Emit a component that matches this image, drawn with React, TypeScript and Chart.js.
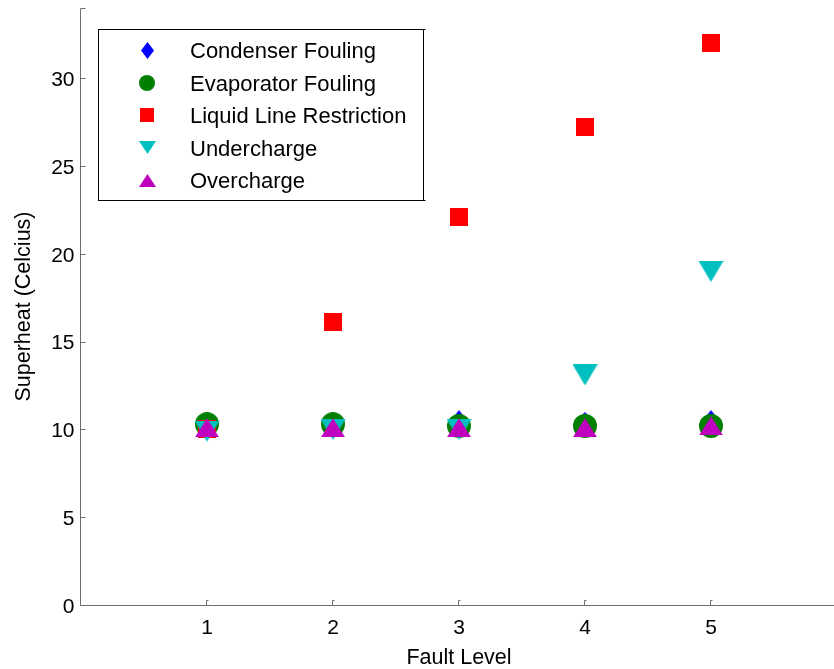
import React, { useEffect, useRef } from 'react';
import { Chart, registerables } from 'chart.js';

Chart.register(...registerables);

// ---- data ----
const faultLevels = [1, 2, 3, 4, 5];
const seriesNames = [
  'Condenser Fouling',
  'Evaporator Fouling',
  'Liquid Line Restriction',
  'Undercharge',
  'Overcharge',
];
const condenserFouling = [10.3, 10.3, 10.4, 10.3, 10.4];
const evaporatorFouling = [10.3, 10.3, 10.2, 10.2, 10.2];
const liquidLineRestriction = [10.0, 16.1, 22.1, 27.2, 32.0];
const undercharge = [9.9, 10.0, 10.0, 13.1, 19.0];
const overcharge = [10.1, 10.1, 10.1, 10.1, 10.2];
const xTicks = [1, 2, 3, 4, 5];
const yTicks = [0, 5, 10, 15, 20, 25, 30];
const xTitle = 'Fault Level';
const yTitle = 'Superheat (Celcius)';

// ---- styles ----
const FONT = '"Liberation Sans", Arial, Helvetica, sans-serif';
const AXIS_COLOR = '#6e6e6e';
type Shape = 'diamond' | 'circle' | 'square' | 'triUp' | 'triDown';
const markerStyles: { shape: Shape; color: string; plot: [number, number]; legend: [number, number] }[] = [
  { shape: 'diamond', color: '#0000ff', plot: [19, 25], legend: [13, 17] },
  { shape: 'circle', color: '#008000', plot: [24, 24], legend: [16, 16] },
  { shape: 'square', color: '#ff0000', plot: [18, 18], legend: [14, 14] },
  { shape: 'triDown', color: '#00bfbf', plot: [25, 21], legend: [17, 13] },
  { shape: 'triUp', color: '#bf00bf', plot: [24, 19], legend: [17, 13] },
];

function makeMarker(shape: Shape, color: string, w: number, h: number) {
  const c = document.createElement('canvas');
  c.width = w;
  c.height = h;
  const ctx = c.getContext('2d')!;
  ctx.fillStyle = color;
  ctx.beginPath();
  switch (shape) {
    case 'diamond':
      ctx.moveTo(w / 2, 0);
      ctx.lineTo(w, h / 2);
      ctx.lineTo(w / 2, h);
      ctx.lineTo(0, h / 2);
      break;
    case 'circle':
      ctx.ellipse(w / 2, h / 2, w / 2, h / 2, 0, 0, Math.PI * 2);
      break;
    case 'square':
      ctx.rect(0, 0, w, h);
      break;
    case 'triUp':
      ctx.moveTo(w / 2, 0);
      ctx.lineTo(w, h);
      ctx.lineTo(0, h);
      break;
    case 'triDown':
      ctx.moveTo(0, 0);
      ctx.lineTo(w, 0);
      ctx.lineTo(w / 2, h);
      break;
  }
  ctx.closePath();
  ctx.fill();
  return c;
}

export default function App() {
  const ref = useRef<HTMLCanvasElement | null>(null);

  useEffect(() => {
    if (!ref.current) return;
    const seriesValues = [condenserFouling, evaporatorFouling, liquidLineRestriction, undercharge, overcharge];
    const plotMarkers = markerStyles.map((m) => makeMarker(m.shape, m.color, m.plot[0], m.plot[1]));
    const legendMarkers = markerStyles.map((m) => makeMarker(m.shape, m.color, m.legend[0], m.legend[1]));

    const matlabPlugin = {
      id: 'matlabAxes',
      beforeDatasetsDraw(chart: any) {
        const { ctx, chartArea } = chart;
        const xs = chart.scales.x;
        const ys = chart.scales.y;
        ctx.save();
        ctx.strokeStyle = AXIS_COLOR;
        ctx.lineWidth = 1;
        const L = Math.round(chartArea.left) - 0.5;
        const B = Math.round(chartArea.bottom) + 0.5;
        const T = Math.round(chartArea.top) + 0.5;
        ctx.beginPath();
        ctx.moveTo(L, T);
        ctx.lineTo(L, B);
        ctx.lineTo(chart.width, B);
        // y ticks (inward)
        [...yTicks, ys.max].forEach((v) => {
          const y = Math.round(ys.getPixelForValue(v)) + 0.5;
          ctx.moveTo(L, y);
          ctx.lineTo(L + 5, y);
        });
        // x ticks (inward)
        xTicks.forEach((v) => {
          const x = Math.round(xs.getPixelForValue(v)) - 0.5;
          ctx.moveTo(x, B);
          ctx.lineTo(x, B - 5);
          ctx.lineTo(x + 2, B - 5);
        });
        ctx.stroke();
        ctx.restore();
      },
      afterDraw(chart: any) {
        const { ctx } = chart;
        ctx.save();
        // legend box
        const bx = 98.5, by = 29.5, bw = 325, bh = 171;
        ctx.fillStyle = '#ffffff';
        ctx.fillRect(bx, by, bw, bh);
        ctx.strokeStyle = '#000000';
        ctx.lineWidth = 1;
        ctx.strokeRect(bx, by, bw, bh);
        ctx.beginPath();
        ctx.moveTo(bx + bw, by);
        ctx.lineTo(bx + bw + 2, by);
        ctx.moveTo(bx + bw, by + bh);
        ctx.lineTo(bx + bw + 2, by + bh);
        ctx.stroke();
        ctx.font = `22px ${FONT}`;
        ctx.fillStyle = '#000000';
        ctx.textBaseline = 'middle';
        ctx.textAlign = 'left';
        seriesNames.forEach((name, i) => {
          const rowY = 52 + i * 32.5;
          const img = legendMarkers[i];
          ctx.drawImage(img, Math.round(147 - img.width / 2), Math.round(rowY - 2 - img.height / 2));
          ctx.fillText(name, 190, rowY);
        });
        ctx.restore();
      },
    };

    const chart = new Chart(ref.current, {
      type: 'scatter',
      data: {
        datasets: seriesNames.map((name, i) => ({
          label: name,
          data: faultLevels.map((x, j) => ({ x, y: seriesValues[i][j] })),
          pointStyle: plotMarkers[i] as any,
          pointRadius: 12,
          pointHoverRadius: 12,
          order: seriesNames.length - i,
          showLine: false,
        })),
      },
      options: {
        animation: false,
        responsive: false,
        maintainAspectRatio: false,
        layout: { autoPadding: false, padding: { top: 8, right: 3, left: 0, bottom: 0 } },
        plugins: {
          legend: { display: false },
          tooltip: { enabled: false },
        },
        scales: {
          x: {
            type: 'linear',
            min: 0,
            max: 6,
            grid: { display: false, drawTicks: false },
            border: { display: false },
            afterBuildTicks: (s: any) => {
              s.ticks = xTicks.map((v) => ({ value: v }));
            },
            afterFit: (s: any) => {
              s.height = 64;
              s.paddingLeft = 0;
              s.paddingRight = 0;
            },
            ticks: {
              color: '#000000',
              font: { family: FONT, size: 21 },
              padding: 11,
              maxRotation: 0,
            },
            title: {
              display: true,
              text: xTitle,
              color: '#000000',
              font: { family: FONT, size: 21.5 },
              padding: { top: 0, bottom: -2 },
            },
          },
          y: {
            type: 'linear',
            min: 0,
            max: 34,
            grid: { display: false, drawTicks: false },
            border: { display: false },
            afterBuildTicks: (s: any) => {
              s.ticks = yTicks.map((v) => ({ value: v }));
            },
            afterFit: (s: any) => {
              s.width = 81;
              s.paddingTop = 0;
              s.paddingBottom = 0;
            },
            ticks: {
              color: '#000000',
              font: { family: FONT, size: 21 },
              padding: 6.5,
              labelOffset: 2,
            },
            title: {
              display: true,
              text: yTitle,
              color: '#000000',
              font: { family: FONT, size: 21.5 },
              padding: { top: 11, bottom: 0 },
            },
          },
        },
      },
      plugins: [matlabPlugin],
    } as any);

    return () => chart.destroy();
  }, []);

  return (
    <div
      style={{
        position: 'absolute',
        left: 0,
        top: 0,
        width: 834,
        height: 669,
        overflow: 'hidden',
        background: '#ffffff',
      }}
    >
      <canvas ref={ref} width={840} height={669} style={{ display: 'block', width: 840, height: 669 }} />
    </div>
  );
}
